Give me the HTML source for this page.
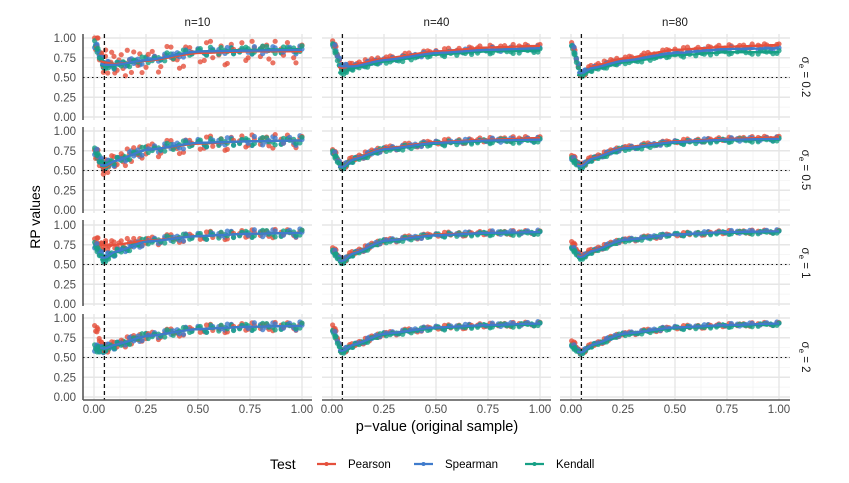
<!DOCTYPE html>
<html><head><meta charset="utf-8"><style>
html,body{margin:0;padding:0;background:#fff;}
svg{display:block;font-family:"Liberation Sans",Arial,sans-serif;}
</style></head><body>
<svg id="chart" width="849" height="483" viewBox="0 0 849 483" xmlns="http://www.w3.org/2000/svg"></svg>
<script>
// ---------------- data ----------------
const tests = ["Pearson","Spearman","Kendall"];
const colors = ["#E5503C","#3F7BCC","#16A085"];
const sampleSizes = ["n=10","n=40","n=80"];
const sigmaLabels = ["0.2","0.5","1","2"];
const xTicks = [0,0.25,0.5,0.75,1];
const xTickLabels = ["0.00","0.25","0.50","0.75","1.00"];
const yTicks = [0,0.25,0.5,0.75,1];
const yTickLabels = ["0.00","0.25","0.50","0.75","1.00"];
// trend grid (p-values) where values are read
const trendX = [0.005,0.05,0.1,0.25,0.5,0.75,1.0];
// trend values [row][col][test]
const trendVals = [
 [ // sigma 0.2
  [[0.96,0.69,0.67,0.71,0.81,0.83,0.83],[0.92,0.66,0.66,0.72,0.83,0.84,0.85],[0.92,0.64,0.65,0.72,0.83,0.85,0.86]],
  [[0.95,0.62,0.66,0.74,0.83,0.88,0.90],[0.93,0.64,0.64,0.72,0.81,0.85,0.87],[0.90,0.55,0.62,0.70,0.79,0.83,0.84]],
  [[0.93,0.52,0.64,0.74,0.85,0.89,0.91],[0.92,0.55,0.62,0.71,0.81,0.86,0.87],[0.88,0.52,0.60,0.69,0.78,0.82,0.82]]
 ],
 [ // sigma 0.5
  [[0.72,0.53,0.62,0.76,0.84,0.87,0.88],[0.75,0.56,0.62,0.76,0.85,0.87,0.88],[0.74,0.55,0.62,0.76,0.85,0.87,0.88]],
  [[0.75,0.54,0.65,0.78,0.86,0.89,0.91],[0.74,0.54,0.64,0.77,0.85,0.88,0.89],[0.72,0.53,0.63,0.76,0.84,0.87,0.88]],
  [[0.68,0.56,0.66,0.79,0.87,0.90,0.92],[0.66,0.55,0.65,0.78,0.86,0.89,0.90],[0.64,0.54,0.64,0.77,0.85,0.88,0.89]]
 ],
 [ // sigma 1
  [[0.80,0.74,0.75,0.80,0.86,0.89,0.90],[0.75,0.58,0.66,0.79,0.86,0.89,0.90],[0.74,0.55,0.65,0.79,0.86,0.89,0.90]],
  [[0.70,0.54,0.65,0.80,0.88,0.90,0.91],[0.68,0.54,0.64,0.80,0.87,0.90,0.91],[0.66,0.52,0.63,0.79,0.87,0.89,0.90]],
  [[0.78,0.60,0.68,0.81,0.88,0.91,0.92],[0.72,0.59,0.67,0.81,0.88,0.91,0.92],[0.70,0.57,0.66,0.80,0.88,0.90,0.91]]
 ],
 [ // sigma 2
  [[0.88,0.60,0.66,0.77,0.86,0.89,0.90],[0.62,0.61,0.66,0.77,0.86,0.89,0.90],[0.62,0.60,0.65,0.77,0.86,0.89,0.90]],
  [[0.90,0.57,0.66,0.80,0.88,0.91,0.93],[0.85,0.58,0.66,0.80,0.88,0.91,0.93],[0.82,0.56,0.65,0.79,0.87,0.90,0.92]],
  [[0.70,0.56,0.66,0.80,0.88,0.91,0.93],[0.66,0.56,0.66,0.80,0.88,0.91,0.93],[0.64,0.55,0.65,0.79,0.87,0.90,0.92]]
 ]
];
// scatter sample p-values and residual pattern (read as typical spread)
const sampleX = [0.003,0.008,0.015,0.025,0.035,0.045,0.055,0.07,0.085,0.1,0.12,0.14,0.16,0.18,0.2,0.22,0.25,0.28,0.31,0.34,0.37,0.4,0.43,0.46,0.5,0.53,0.56,0.6,0.63,0.66,0.7,0.73,0.76,0.8,0.83,0.86,0.9,0.93,0.96,0.99];
const residuals = [0.4,-0.6,0.8,-0.3,0.2,-0.9,0.5,-0.2,0.9,-0.7,0.3,-0.4,1.0,-0.8,0.1,0.6,-0.5,0.7,-1.0,0.2,0.8,-0.3,-0.9,0.5,0.3,-0.6,0.9,-0.2,-1.0,0.6,0.1,-0.7,0.8,-0.4,0.5,-0.9,0.2,0.7,-0.5,0.3];
// noise amplitude [row][col][test]
const noiseAmp = [
 [[0.16,0.05,0.05],[0.035,0.03,0.03],[0.03,0.025,0.025]],
 [[0.10,0.06,0.05],[0.035,0.03,0.03],[0.025,0.025,0.025]],
 [[0.06,0.05,0.045],[0.03,0.025,0.025],[0.025,0.02,0.02]],
 [[0.06,0.05,0.045],[0.03,0.025,0.025],[0.025,0.02,0.02]]
];
// ---------------- layout ----------------
const colX0 = [94,332,571], xSpan = 208;
const colLeft = [83,322,560], colRight = [312,551,790];
const rowY1 = [38,131,225,318], ySpan = 79;
const rowTop = [34,127,220,314], rowBot = [120,213,306,400];
const drawOrder = [0,2,1];
const svg = document.getElementById('chart');
const NS = "http://www.w3.org/2000/svg";
function el(tag, attrs, parent){const e=document.createElementNS(NS,tag);for(const k in attrs)e.setAttribute(k,attrs[k]);(parent||svg).appendChild(e);return e;}
function sx(c,v){return colX0[c]+v*xSpan;}
function sy(r,v){return rowY1[r]+(1-v)*ySpan;}
function interp(vals,x){
  if(x<=trendX[0])return vals[0];
  for(let i=1;i<trendX.length;i++){if(x<=trendX[i]){const t=(x-trendX[i-1])/(trendX[i]-trendX[i-1]);const tt=t*t*(3-2*t);return vals[i-1]+(vals[i]-vals[i-1])*(0.5*t+0.5*tt);}}
  return vals[vals.length-1];
}
for(let r=0;r<4;r++){
 for(let c=0;c<3;c++){
  const g=el('g',{});
  
  
  for(let i=0;i<4;i++){const v=0.125+0.25*i;
    el('line',{x1:colLeft[c],x2:colRight[c],y1:sy(r,v),y2:sy(r,v),stroke:'#f3f3f3','stroke-width':0.8},g);
    el('line',{x1:sx(c,v),x2:sx(c,v),y1:rowTop[r],y2:rowBot[r],stroke:'#f3f3f3','stroke-width':0.8},g);}
  yTicks.forEach(v=>{const l=el('line',{x1:colLeft[c],x2:colRight[c],y1:sy(r,v),y2:sy(r,v),stroke:'#e6e6e6','stroke-width':1.4},g);
    });
  xTicks.forEach(v=>{const l=el('line',{x1:sx(c,v),x2:sx(c,v),y1:rowTop[r],y2:rowBot[r],stroke:'#e6e6e6','stroke-width':1.4},g);
    });
  // points (two passes for density)
  for(let pass=0;pass<2;pass++){
   for(let t=0;t<3;t++){
    const vals=trendVals[r][c][t];
    sampleX.forEach((x0,i)=>{
      const x=Math.min(1,x0+pass*0.011);
      const res=residuals[(i+t*13+pass*7)%residuals.length];
      let y=interp(vals,x)+res*noiseAmp[r][c][t];
      y=Math.min(1,Math.max(0,y));
      const p=el('circle',{cx:sx(c,x),cy:sy(r,y),r:2.6,fill:colors[t],'fill-opacity':0.8},g);
      
      
    });
   }
  }
  const hl=el('line',{x1:colLeft[c],x2:colRight[c],y1:sy(r,0.5),y2:sy(r,0.5),stroke:'#111','stroke-width':1,'stroke-dasharray':'1.5,3'},g);
  
  const vl=el('line',{x1:sx(c,0.05),x2:sx(c,0.05),y1:rowTop[r],y2:rowBot[r],stroke:'#111','stroke-width':1.3,'stroke-dasharray':'4,3'},g);
  
  drawOrder.forEach(t=>{
    const vals=trendVals[r][c][t];let d='';
    for(let k=0;k<=60;k++){const x=0.03+(0.97*k/60);const xv=Math.max(0.05,x);
      d+=(k?'L':'M')+sx(c,x).toFixed(1)+','+sy(r,interp(vals,xv)+(0.05-Math.min(x,0.05))*0.8).toFixed(1);}
    const pl=el('path',{d:d,fill:'none',stroke:colors[t],'stroke-width':2.3},g);
    
    
  });
  if(c===0){
    const ax=el('line',{x1:colLeft[c],x2:colLeft[c],y1:rowTop[r],y2:rowBot[r],stroke:'#222','stroke-width':1.2},g);
    
    yTicks.forEach((v,i)=>{const tx=el('text',{x:76,y:sy(r,v)+4,'text-anchor':'end','font-size':11.5,fill:'#4d4d4d'},g);tx.textContent=yTickLabels[i];
      });
  }
  if(r===3){
    const ax=el('line',{x1:colLeft[c],x2:colRight[c],y1:rowBot[r],y2:rowBot[r],stroke:'#555','stroke-width':1.6},g);
    
    xTicks.forEach((v,i)=>{const tx=el('text',{x:sx(c,v),y:413,'text-anchor':'middle','font-size':11.5,fill:'#4d4d4d'},g);tx.textContent=xTickLabels[i];
      });
  }
 }
 const sl=el('text',{transform:'translate(802,'+((rowTop[r]+rowBot[r])/2)+') rotate(90)','text-anchor':'middle','font-size':11.5,fill:'#1a1a1a'});
 sl.innerHTML='σ<tspan font-size="8" dy="3">e</tspan><tspan dy="-3"> = '+sigmaLabels[r]+'</tspan>';
 
}
sampleSizes.forEach((s,c)=>{const t=el('text',{x:(colLeft[c]+colRight[c])/2,y:26,'text-anchor':'middle','font-size':11.5,fill:'#1a1a1a'});t.textContent=s;
  });
const yt=el('text',{transform:'translate(40,217) rotate(-90)','text-anchor':'middle','font-size':14,fill:'#000'});yt.textContent='RP values';

const xt=el('text',{x:437,y:431,'text-anchor':'middle','font-size':14.5,fill:'#000'});xt.textContent='p\u2212value (original sample)';

const lt=el('text',{x:270,y:469,'font-size':14,fill:'#000'});lt.textContent='Test';

const legX=[317,414,525];
tests.forEach((t,i)=>{
  const g=el('g',{});
  
  
  el('line',{x1:legX[i],x2:legX[i]+19,y1:464,y2:464,stroke:colors[i],'stroke-width':2.2},g);
  el('circle',{cx:legX[i]+9.5,cy:464,r:2,fill:colors[i]},g);
  const tx=el('text',{x:legX[i]+31,y:468,'font-size':11.5,fill:'#000'},g);tx.textContent=t;
});
</script>
</body></html>
